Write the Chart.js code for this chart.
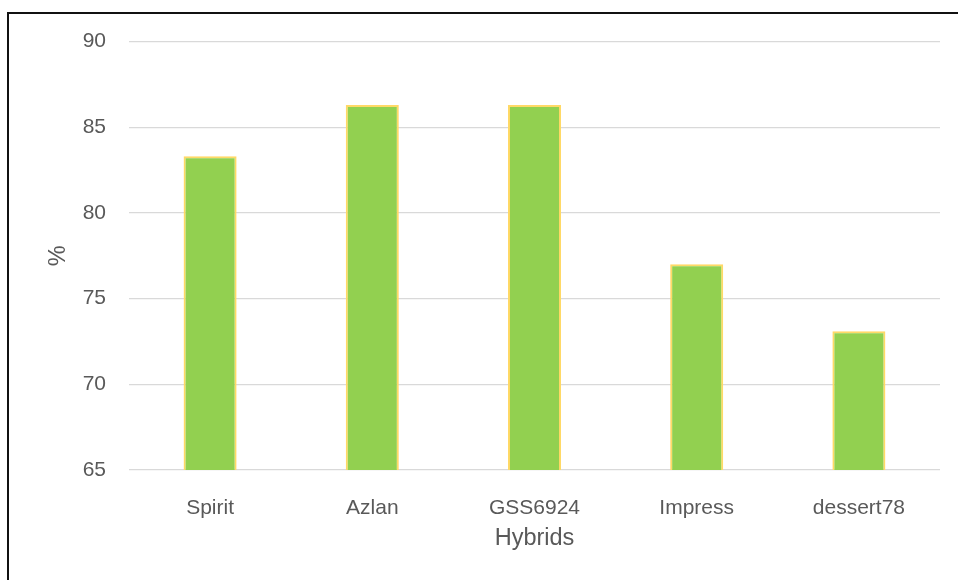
<!DOCTYPE html>
<html>
<head>
<meta charset="utf-8">
<script src="https://cdn.jsdelivr.net/npm/chart.js@4"></script>
<style>
  html, body { margin: 0; padding: 0; background: #ffffff; }
  #wrap { position: relative; width: 958px; height: 580px; overflow: hidden; }
  #frame { position: absolute; left: 7px; top: 12px; width: 960px; height: 580px;
           border-left: 2px solid #111; border-top: 2px solid #111; box-sizing: border-box; }
  canvas { position: absolute; left: 0; top: 0; }
</style>
</head>
<body>
<div id="wrap">
  <div id="frame"></div>
  <canvas id="c" width="958" height="580"></canvas>
</div>
<script>
// Hybrid varieties and their percentage values
const hybrids = ['Spirit', 'Azlan', 'GSS6924', 'Impress', 'dessert78'];
const percentValues = [83.3, 86.3, 86.3, 77.0, 73.1];
const yTicks = [65, 70, 75, 80, 85, 90];

const FONT = "'Liberation Sans', Arial, sans-serif";
const TEXT = '#595959';

new Chart(document.getElementById('c'), {
  type: 'bar',
  data: {
    labels: hybrids,
    datasets: [{
      data: percentValues,
      backgroundColor: '#92D050',
      borderColor: '#FFD966',
      borderWidth: 2,
      barPercentage: 0.327,
      categoryPercentage: 1
    }]
  },
  options: {
    responsive: false,
    animation: false,
    devicePixelRatio: 1,
    layout: { padding: { left: 0, top: 41.5, right: 18, bottom: 0 } },
    plugins: { legend: { display: false }, tooltip: { enabled: false } },
    scales: {
      x: {
        grid: { display: false },
        border: { display: false },
        ticks: { color: TEXT, font: { family: FONT, size: 21 }, padding: 18, maxRotation: 0 },
        title: { display: true, text: 'Hybrids', color: TEXT,
                 font: { family: FONT, size: 23.5 }, padding: { top: 0, bottom: 27 } },
        afterFit: (s) => { s.height = 110; }
      },
      y: {
        min: yTicks[0],
        max: yTicks[yTicks.length - 1],
        afterBuildTicks: (s) => { s.ticks = yTicks.map(v => ({ value: v })); },
        grid: { color: '#D9D9D9', lineWidth: 1.3, drawTicks: false },
        border: { display: false },
        ticks: { color: TEXT, font: { family: FONT, size: 21 }, padding: 23 },
        title: { display: true, text: '%', color: TEXT,
                 font: { family: FONT, size: 23.5 }, padding: { top: 44, bottom: 0 } },
        afterFit: (s) => { s.width = 129; }
      }
    }
  }
});
</script>
</body>
</html>
